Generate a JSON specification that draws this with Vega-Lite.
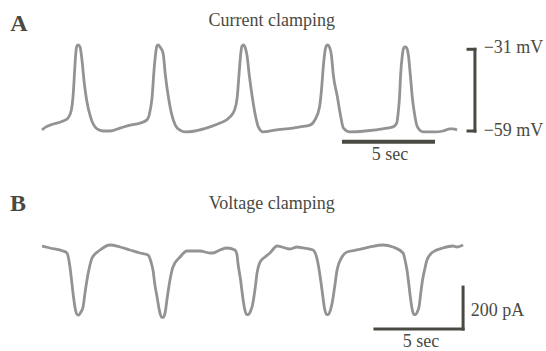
{
  "$schema": "https://vega.github.io/schema/vega-lite/v6.json",
  "padding": 0,
  "spacing": 0,
  "background": "white",
  "config": {"view": {"stroke": null}, "text": {"font": "Liberation Serif", "color": "#4a4a42"}},
  "datasets": {
    "traceA": [
      {"t":0.00,"v":-58.6},{"t":0.23,"v":-57.6},{"t":0.45,"v":-57.0},{"t":1.19,"v":-55.6},{"t":1.47,"v":-54.6},
      {"t":1.66,"v":-51.8},{"t":1.76,"v":-46.7},{"t":1.83,"v":-39.9},{"t":1.90,"v":-33.1},{"t":1.97,"v":-30.0},{"t":2.05,"v":-29.6},
      {"t":2.15,"v":-30.3},{"t":2.26,"v":-34.8},{"t":2.37,"v":-41.6},{"t":2.52,"v":-48.4},{"t":2.74,"v":-54.2},
      {"t":3.11,"v":-58.3},{"t":3.45,"v":-59.0},{"t":3.84,"v":-59.0},{"t":4.41,"v":-58.0},{"t":4.97,"v":-57.0},
      {"t":5.54,"v":-56.3},{"t":5.93,"v":-55.2},{"t":6.08,"v":-52.9},{"t":6.22,"v":-47.4},{"t":6.33,"v":-38.2},
      {"t":6.41,"v":-33.1},{"t":6.49,"v":-30.0},{"t":6.57,"v":-29.6},{"t":6.67,"v":-30.3},{"t":6.84,"v":-32.4},{"t":6.97,"v":-39.9},
      {"t":7.14,"v":-47.4},{"t":7.31,"v":-52.9},{"t":7.53,"v":-57.0},{"t":7.80,"v":-58.7},{"t":8.08,"v":-59.3},
      {"t":8.64,"v":-59.0},{"t":9.49,"v":-57.6},{"t":10.06,"v":-56.3},{"t":10.62,"v":-54.2},{"t":10.88,"v":-51.8},
      {"t":11.03,"v":-47.4},{"t":11.15,"v":-38.2},{"t":11.22,"v":-33.1},{"t":11.30,"v":-30.0},{"t":11.38,"v":-29.6},{"t":11.47,"v":-30.3},
      {"t":11.58,"v":-33.1},{"t":11.71,"v":-39.9},{"t":11.88,"v":-47.4},{"t":12.05,"v":-53.5},{"t":12.22,"v":-57.6},
      {"t":12.49,"v":-59.3},{"t":13.16,"v":-58.7},{"t":14.18,"v":-58.0},{"t":14.58,"v":-57.6},{"t":15.14,"v":-57.0},
      {"t":15.42,"v":-55.2},{"t":15.68,"v":-50.8},{"t":15.79,"v":-45.0},{"t":15.90,"v":-36.5},{"t":16.00,"v":-31.3},
      {"t":16.08,"v":-29.8},{"t":16.14,"v":-29.6},{"t":16.24,"v":-30.3},{"t":16.35,"v":-33.1},{"t":16.46,"v":-39.9},{"t":16.69,"v":-47.4},
      {"t":16.86,"v":-53.5},{"t":17.03,"v":-58.0},{"t":17.40,"v":-59.3},{"t":18.25,"v":-59.0},{"t":19.49,"v":-58.0},
      {"t":19.83,"v":-57.6},{"t":20.04,"v":-56.3},{"t":20.14,"v":-51.8},{"t":20.20,"v":-47.4},{"t":20.26,"v":-39.9},
      {"t":20.36,"v":-33.1},{"t":20.44,"v":-30.6},{"t":20.52,"v":-30.3},{"t":20.60,"v":-30.6},{"t":20.70,"v":-33.1},{"t":20.81,"v":-39.9},
      {"t":20.92,"v":-47.4},{"t":21.04,"v":-52.9},{"t":21.21,"v":-57.6},{"t":21.53,"v":-59.3},{"t":22.20,"v":-59.3},
      {"t":22.66,"v":-59.0},{"t":23.05,"v":-58.3},{"t":23.22,"v":-58.3},{"t":23.45,"v":-58.6}
    ],
    "traceB": [
      {"t":0.00,"v":9.5},{"t":0.45,"v":0},{"t":1.19,"v":-14.3},{"t":1.41,"v":-23.8},{"t":1.58,"v":-90.5},
      {"t":1.70,"v":-176.2},{"t":1.78,"v":-233.3},{"t":1.88,"v":-290.2},{"t":1.98,"v":-316.1},{"t":2.08,"v":-319.1},{"t":2.20,"v":-304.8},
      {"t":2.32,"v":-281.0},{"t":2.43,"v":-214.3},{"t":2.54,"v":-152.4},{"t":2.71,"v":-81.0},{"t":2.83,"v":-47.6},
      {"t":3.28,"v":-9.5},{"t":3.84,"v":14.3},{"t":4.41,"v":4.8},{"t":4.97,"v":-9.5},{"t":5.54,"v":-23.8},
      {"t":5.99,"v":-33.3},{"t":6.16,"v":-66.7},{"t":6.27,"v":-104.8},{"t":6.38,"v":-176.2},{"t":6.50,"v":-233.3},
      {"t":6.64,"v":-300.5},{"t":6.75,"v":-328.3},{"t":6.84,"v":-330.3},{"t":6.95,"v":-310.1},{"t":7.08,"v":-233.3},{"t":7.23,"v":-152.4},
      {"t":7.40,"v":-90.5},{"t":7.80,"v":-42.9},{"t":8.19,"v":-14.3},{"t":8.93,"v":-14.3},{"t":9.49,"v":-23.8},
      {"t":9.66,"v":-23.8},{"t":10.06,"v":-9.5},{"t":10.45,"v":0},{"t":10.90,"v":-9.5},{"t":11.02,"v":-33.3},
      {"t":11.07,"v":-71.4},{"t":11.22,"v":-152.4},{"t":11.34,"v":-233.3},{"t":11.45,"v":-290.2},{"t":11.55,"v":-316.1},{"t":11.65,"v":-317.1},
      {"t":11.77,"v":-302.8},{"t":11.88,"v":-276.0},{"t":12.03,"v":-200.0},{"t":12.15,"v":-119.0},{"t":12.32,"v":-66.7},
      {"t":12.60,"v":-42.9},{"t":12.88,"v":-23.8},{"t":13.28,"v":9.5},{"t":14.01,"v":-4.8},{"t":14.41,"v":4.8},
      {"t":14.75,"v":0},{"t":15.31,"v":-9.5},{"t":15.48,"v":-33.3},{"t":15.59,"v":-71.4},{"t":15.71,"v":-133.3},
      {"t":15.82,"v":-200.0},{"t":15.97,"v":-290.2},{"t":16.07,"v":-316.1},{"t":16.17,"v":-317.1},{"t":16.29,"v":-297.0},{"t":16.40,"v":-258.9},
      {"t":16.55,"v":-176.2},{"t":16.67,"v":-104.8},{"t":16.95,"v":-42.9},{"t":17.23,"v":-19.0},{"t":17.80,"v":-9.5},
      {"t":18.53,"v":4.8},{"t":19.27,"v":14.3},{"t":19.83,"v":4.8},{"t":20.40,"v":-23.8},{"t":20.51,"v":-57.1},
      {"t":20.62,"v":-104.8},{"t":20.73,"v":-176.2},{"t":20.81,"v":-233.3},{"t":20.91,"v":-290.2},{"t":21.01,"v":-316.1},{"t":21.11,"v":-317.1},
      {"t":21.21,"v":-302.8},{"t":21.30,"v":-281.0},{"t":21.40,"v":-214.3},{"t":21.50,"v":-152.4},{"t":21.64,"v":-95.2},
      {"t":21.75,"v":-57.1},{"t":22.09,"v":-19.0},{"t":22.66,"v":0},{"t":23.22,"v":9.5},{"t":23.45,"v":4.8},
      {"t":23.79,"v":14.3}
    ],
    "barsA": [
      {"x1":17.06,"x2":22.09,"y1":-62.7,"y2":-62.7,"w":4},
      {"x1":24.46,"x2":24.46,"y1":-31.1,"y2":-59.0,"w":3},
      {"x1":24.07,"x2":24.46,"y1":-31.1,"y2":-31.1,"w":3},
      {"x1":24.07,"x2":24.46,"y1":-59.0,"y2":-59.0,"w":3}
    ],
    "barsB": [
      {"x1":23.79,"x2":23.79,"y1":-186,"y2":-386},
      {"x1":18.81,"x2":23.79,"y1":-386,"y2":-386}
    ],
    "labelsA": [
      {"t":12.98,"v":-21.3,"label":"Current clamping"},
      {"t":26.64,"v":-30.8,"label":"−31 mV"},
      {"t":26.64,"v":-59.0,"label":"−59 mV"},
      {"t":19.66,"v":-67.2,"label":"5 sec"}
    ],
    "labelsB": [
      {"t":12.98,"v":209.5,"label":"Voltage clamping"},
      {"t":25.73,"v":-300.0,"label":"200 pA"},
      {"t":21.41,"v":-447.6,"label":"5 sec"}
    ],
    "letterA": [{"t":-1.30,"v":-22.3,"label":"A"}],
    "letterB": [{"t":-1.36,"v":209.5,"label":"B"}]
  },
  "vconcat": [
    {
      "width": 546,
      "height": 180,
      "layer": [
        {
          "data": {"name": "traceA"},
          "mark": {"type": "line", "color": "#939393", "strokeWidth": 2.8, "interpolate": "monotone"},
          "encoding": {
            "x": {"field": "t", "type": "quantitative", "scale": {"domain": [-2.373, 28.475], "nice": false, "zero": false}, "axis": null},
            "y": {"field": "v", "type": "quantitative", "scale": {"domain": [-75.73, -14.27], "nice": false, "zero": false}, "axis": null}
          }
        },
        {
          "data": {"name": "barsA"},
          "mark": {"type": "rule", "color": "#4a4a42", "strokeCap": "square"},
          "encoding": {
            "x": {"field": "x1", "type": "quantitative"},
            "x2": {"field": "x2"},
            "y": {"field": "y1", "type": "quantitative"},
            "y2": {"field": "y2"},
            "strokeWidth": {"field": "w", "type": "quantitative", "scale": null, "legend": null}
          }
        },
        {
          "data": {"name": "labelsA"},
          "mark": {"type": "text", "fontSize": 18, "align": "center", "baseline": "middle"},
          "encoding": {
            "x": {"field": "t", "type": "quantitative"},
            "y": {"field": "v", "type": "quantitative"},
            "text": {"field": "label"}
          }
        },
        {
          "data": {"name": "letterA"},
          "mark": {"type": "text", "fontSize": 24, "fontWeight": "bold", "align": "center", "baseline": "middle"},
          "encoding": {
            "x": {"field": "t", "type": "quantitative"},
            "y": {"field": "v", "type": "quantitative"},
            "text": {"field": "label"}
          }
        }
      ]
    },
    {
      "width": 546,
      "height": 171,
      "layer": [
        {
          "data": {"name": "traceB"},
          "mark": {"type": "line", "color": "#939393", "strokeWidth": 2.8, "interpolate": "monotone"},
          "encoding": {
            "x": {"field": "t", "type": "quantitative", "scale": {"domain": [-2.373, 28.475], "nice": false, "zero": false}, "axis": null},
            "y": {"field": "v", "type": "quantitative", "scale": {"domain": [-490.5, 323.8], "nice": false, "zero": false}, "axis": null}
          }
        },
        {
          "data": {"name": "barsB"},
          "mark": {"type": "rule", "color": "#4a4a42", "strokeWidth": 3, "strokeCap": "square"},
          "encoding": {
            "x": {"field": "x1", "type": "quantitative"},
            "x2": {"field": "x2"},
            "y": {"field": "y1", "type": "quantitative"},
            "y2": {"field": "y2"}
          }
        },
        {
          "data": {"name": "labelsB"},
          "mark": {"type": "text", "fontSize": 18, "align": "center", "baseline": "middle"},
          "encoding": {
            "x": {"field": "t", "type": "quantitative"},
            "y": {"field": "v", "type": "quantitative"},
            "text": {"field": "label"}
          }
        },
        {
          "data": {"name": "letterB"},
          "mark": {"type": "text", "fontSize": 24, "fontWeight": "bold", "align": "center", "baseline": "middle"},
          "encoding": {
            "x": {"field": "t", "type": "quantitative"},
            "y": {"field": "v", "type": "quantitative"},
            "text": {"field": "label"}
          }
        }
      ]
    }
  ]
}
